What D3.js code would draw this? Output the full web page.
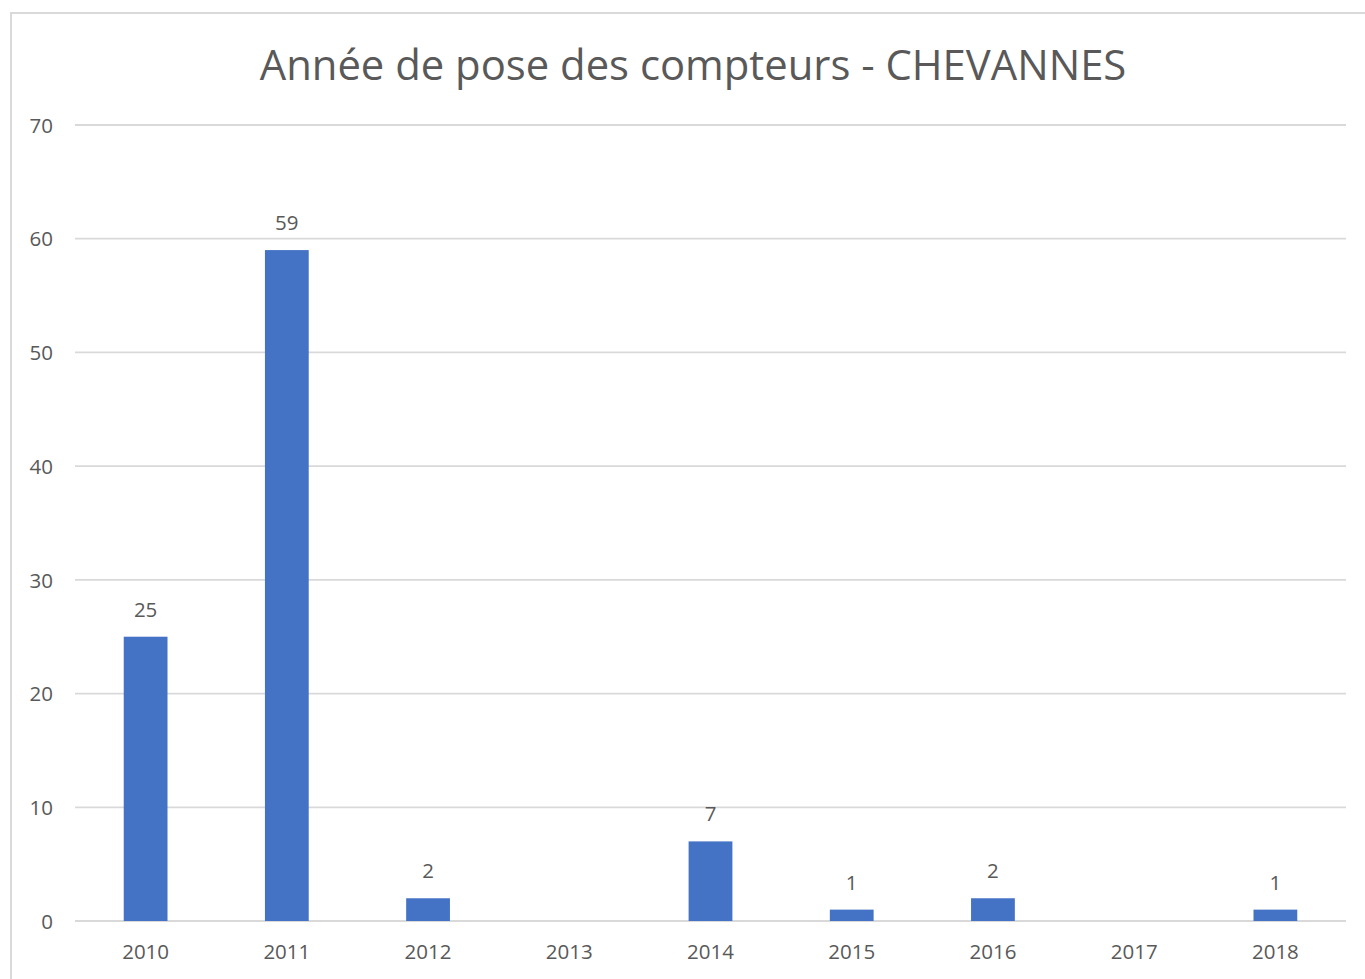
<!DOCTYPE html>
<html lang="fr">
<head>
  <meta charset="UTF-8">
  <title>Année de pose des compteurs - CHEVANNES</title>
  <script src="https://d3js.org/d3.v7.min.js"></script>
  <style>
    body { margin: 0; background: #fff; }
    text { font-family: "Open Sans", "Noto Sans", sans-serif; fill: #595959; }
  </style>
</head>
<body>
  <svg id="chart" width="1365" height="979"></svg>
  <script>
    // Data
    const years = ["2010", "2011", "2012", "2013", "2014", "2015", "2016", "2017", "2018"];
    const counts = [25, 59, 2, null, 7, 1, 2, null, 1];
    const yTicks = [0, 10, 20, 30, 40, 50, 60, 70];

    const svg = d3.select("#chart");
    const margin = { top: 125, right: 19, bottom: 58, left: 75 };
    const W = 1365, H = 979;

    // chart border
    svg.append("rect")
      .attr("x", 11).attr("y", 13)
      .attr("width", W).attr("height", H)
      .attr("fill", "#fff")
      .attr("stroke", "#d9d9d9")
      .attr("stroke-width", 2);

    svg.append("text")
      .attr("x", 693).attr("y", 80)
      .attr("text-anchor", "middle")
      .style("font-size", "41.8px")
      .text("Année de pose des compteurs - CHEVANNES");

    const x = d3.scaleBand()
      .domain(years)
      .range([margin.left, W - margin.right])
      .paddingInner(0.69)
      .paddingOuter(0.345);

    const y = d3.scaleLinear()
      .domain([0, 70])
      .range([H - margin.bottom, margin.top]);

    // gridlines
    svg.append("g")
      .selectAll("line")
      .data(yTicks)
      .join("line")
      .attr("x1", margin.left).attr("x2", W - margin.right)
      .attr("y1", d => y(d)).attr("y2", d => y(d))
      .attr("stroke", "#d9d9d9")
      .attr("stroke-width", 1.8);

    // y axis labels
    const yAxis = svg.append("g")
      .attr("transform", `translate(${margin.left - 20},0)`)
      .call(d3.axisLeft(y).tickValues(yTicks).tickSize(0).tickPadding(2));
    yAxis.select(".domain").remove();
    yAxis.selectAll("text").style("font-size", "20.5px").attr("dy", "0.35em");

    // x axis labels
    const xAxis = svg.append("g")
      .attr("transform", `translate(0,${y(0)})`)
      .call(d3.axisBottom(x).tickSize(0).tickPadding(23));
    xAxis.select(".domain").remove();
    xAxis.selectAll("text").style("font-size", "20.5px");

    const data = years.map((yr, i) => ({ year: yr, value: counts[i] }))
      .filter(d => d.value !== null);

    svg.append("g")
      .selectAll("rect")
      .data(data)
      .join("rect")
      .attr("x", d => x(d.year))
      .attr("y", d => y(d.value))
      .attr("width", x.bandwidth())
      .attr("height", d => y(0) - y(d.value))
      .attr("fill", "#4472c4");

    svg.append("g")
      .selectAll("text")
      .data(data)
      .join("text")
      .attr("x", d => x(d.year) + x.bandwidth() / 2)
      .attr("y", d => y(d.value) - 20)
      .attr("text-anchor", "middle")
      .style("font-size", "20.5px")
      .text(d => d.value);
  </script>
</body>
</html>
